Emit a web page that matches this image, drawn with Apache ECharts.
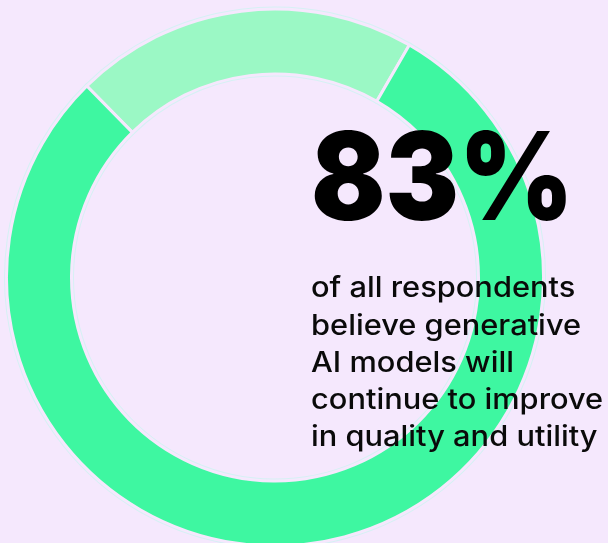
<!DOCTYPE html>
<html>
<head>
<meta charset="utf-8">
<script src="https://cdn.jsdelivr.net/npm/echarts@6/dist/echarts.min.js"></script>
<style>
html,body{margin:0;padding:0;background:#f5e8fd;}
#chart{width:608px;height:543px;}
</style>
</head>
<body>
<div id="chart"></div>
<script>
const categories = ['Other', 'Believe AI will improve'];
const values = [20.7, 79.3];
const headline = '83%';
const bodyLines = [
  'of all respondents',
  'believe generative',
  'AI models will',
  'continue to improve',
  'in quality and utility'
];

const BG = '#f5e8fd';
const colors = ['#9bf8c5', '#3ef7a1'];
const data = categories.map((c, i) => ({ name: c, value: values[i], itemStyle: { color: colors[i] } }));

const chart = echarts.init(document.getElementById('chart'), null, { renderer: 'canvas' });

const pieBase = {
  type: 'pie',
  center: [275, 277.5],
  radius: [203.5, 268.5],
  startAngle: 134.5,
  clockwise: true,
  silent: true,
  label: { show: false },
  labelLine: { show: false },
  emphasis: { disabled: true },
  data: data
};

const graphics = [{
  type: 'text',
  x: 311,
  y: 122,
  scaleX: 0.9,
  z: 100,
  style: {
    text: headline,
    font: '900 122px Inter',
    fill: '#000'
  }
}];
bodyLines.forEach((t, i) => {
  graphics.push({
    type: 'text',
    x: 311,
    y: 275 + i * 37.2,
    scaleX: 1.1,
    z: 100,
    style: {
      text: t,
      font: '500 28px Inter',
      fill: '#0a0a0a'
    }
  });
});

chart.setOption({
  backgroundColor: BG,
  animation: false,
  series: [
    Object.assign({}, pieBase, { itemStyle: { borderColor: '#d6f1f4', borderWidth: 5 } }),
    Object.assign({}, pieBase, { itemStyle: { borderColor: BG, borderWidth: 3 } })
  ],
  graphic: graphics
});
</script>
</body>
</html>
